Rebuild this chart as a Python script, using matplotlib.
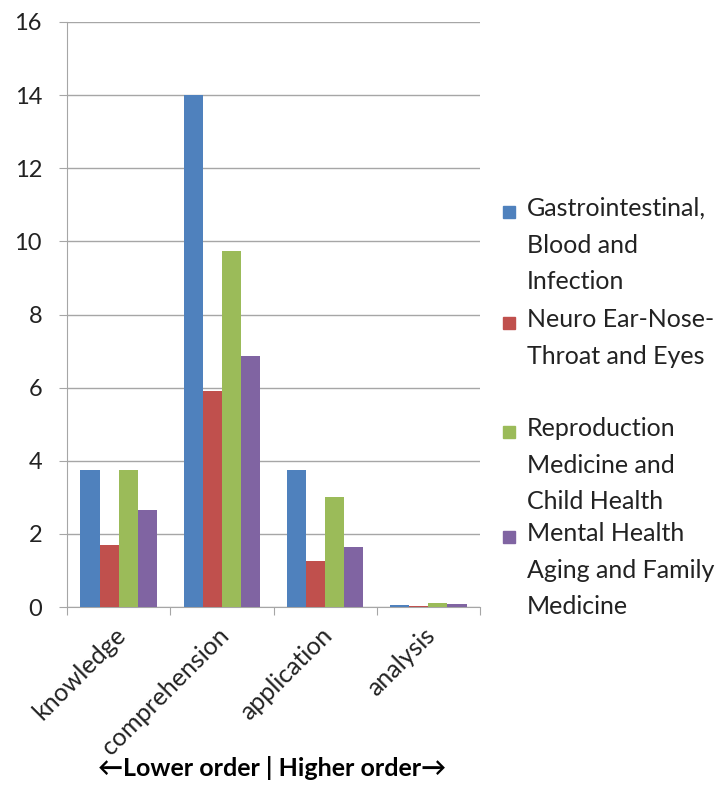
import matplotlib.pyplot as plt
from matplotlib.patches import Rectangle
import numpy as np

plt.rcParams['font.family'] = ['Lato', 'DejaVu Sans']

categories = ['knowledge', 'comprehension', 'application', 'analysis']
series_names = ['Gastrointestinal,\nBlood and\nInfection',
                'Neuro Ear-Nose-\nThroat and Eyes',
                'Reproduction\nMedicine and\nChild Health',
                'Mental Health\nAging and Family\nMedicine']
gastro = [3.75, 14.0, 3.75, 0.06]
neuro = [1.7, 5.9, 1.27, 0.02]
repro = [3.75, 9.75, 3.02, 0.1]
mental = [2.65, 6.87, 1.65, 0.08]
colors = ['#4F81BD', '#C0504D', '#9BBB59', '#8064A2']

fig = plt.figure(figsize=(7.21, 8.09), dpi=100)
ax = fig.add_axes([67 / 721, 1 - 607 / 809, (480 - 67) / 721, (607 - 22) / 809])

x = np.arange(len(categories))
w = 0.185
for i, vals in enumerate([gastro, neuro, repro, mental]):
    ax.bar(x + (i - 1.5) * w, vals, w, color=colors[i], zorder=3)

ax.set_xlim(-0.5, 3.5)
ax.set_ylim(0, 16)
ax.set_yticks(range(0, 17, 2))
ax.yaxis.grid(True, color='#a6a6a6', linewidth=1, zorder=0)
ax.tick_params(axis='y', length=6, color='#a6a6a6', labelsize=17, pad=12,
               labelcolor='#222222')
ax.set_xticks(np.arange(-0.5, 4, 1))
ax.set_xticklabels([])
ax.tick_params(axis='x', length=6, color='#a6a6a6')
for i, c in enumerate(categories):
    ax.text(i - 0.05, -0.45, c, rotation=45, ha='right', va='top',
            rotation_mode='anchor', fontsize=18, color='#222222')
for s in ['top', 'right']:
    ax.spines[s].set_visible(False)
for s in ['left', 'bottom']:
    ax.spines[s].set_color('#a6a6a6')

# legend drawn by hand so the swatch sits at the first line
first_lines = [212, 323, 432, 537]
for name, col, yy in zip(series_names, colors, first_lines):
    fig.patches.append(Rectangle((503 / 721, 1 - (yy + 6) / 809), 12 / 721, 12 / 809,
                                 transform=fig.transFigure, color=col))
    fig.text(527 / 721, 1 - (yy - 15) / 809, name, ha='left', va='top',
             fontsize=18, linespacing=1.72, color='#222222')

fig.text(272 / 721, 1 - 768 / 809, '\u2190Lower order | Higher order\u2192',
         ha='center', va='center', fontsize=18, fontweight='bold',
         family=['Lato', 'DejaVu Sans'])

fig.savefig('out.png', dpi=100)
